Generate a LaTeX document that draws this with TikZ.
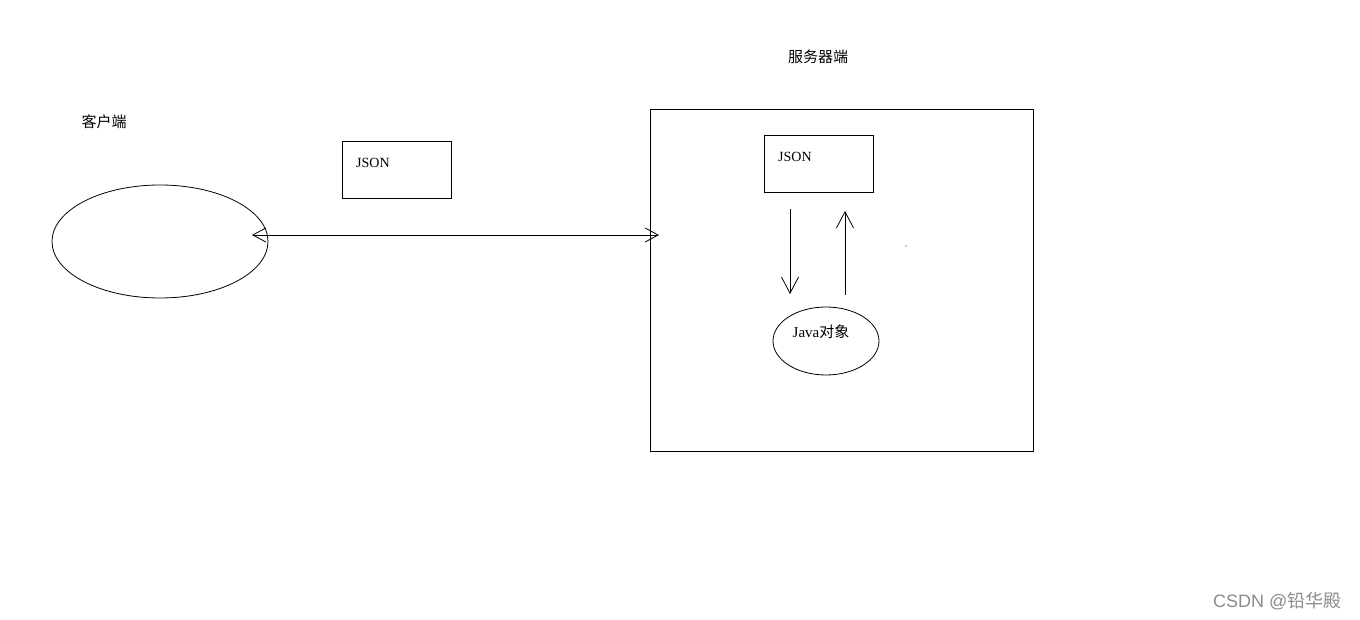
\documentclass[tikz,border=0pt]{standalone}
\usepackage{fontspec}
\setmainfont{Liberation Serif}
\newfontfamily\cjk{Noto Sans CJK SC}
\newfontfamily\wm{Liberation Sans}
\usetikzlibrary{shapes.geometric,arrows.meta}
\begin{document}
\begin{tikzpicture}[x=1pt,y=-1pt,
  box/.style={draw,line width=0.8pt,inner sep=0pt},
  oval/.style={draw,ellipse,line width=0.8pt,inner sep=0pt},
  lbl/.style={font=\cjk\fontsize{15}{17}\selectfont,inner sep=0pt},
  jtxt/.style={font=\fontsize{14}{16}\selectfont,inner sep=0pt},
  conn/.style={line width=0.8pt,{Straight Barb[length=13pt,width=14pt]}-{Straight Barb[length=13pt,width=14pt]}},
  one/.style={line width=0.8pt,-{Straight Barb[length=16pt,width=17pt]}}]
\useasboundingbox[fill=white] (0,0) rectangle (1360,620);
% client
\node[lbl] (clientlbl) at (104,122) {客户端};
\node[oval,minimum width=216pt,minimum height=113pt] (client) at (160,241.5) {};
\node[box,minimum width=109pt,minimum height=57pt] (json1) at (396.5,169.5) {};
\node[jtxt,anchor=west] (json1t) at (356,163) {JSON};
% server
\node[lbl] (serverlbl) at (818,57) {服务器端};
\node[box,minimum width=383pt,minimum height=342pt] (server) at (841.5,280) {};
\node[box,minimum width=109pt,minimum height=57pt] (json2) at (818.5,163.5) {};
\node[jtxt,anchor=west] (json2t) at (778,157) {JSON};
\node[oval,minimum width=106pt,minimum height=68pt] (obj) at (826,341) {};
\node[font=\fontsize{15}{17}\selectfont,inner sep=0pt] (objt) at (821,332) {Java{\cjk 对象}};
% connectors
\coordinate (a1) at (252,235);
\coordinate (a2) at (659,235);
\draw[conn] (a1) -- (a2);
\coordinate (d1) at (790,209);
\coordinate (d2) at (790,294);
\draw[one] (d1) -- (d2);
\coordinate (u1) at (845,295);
\coordinate (u2) at (845,211);
\draw[one] (u1) -- (u2);
\fill (906,246) circle (0.6pt);
% watermark
\node[font=\wm\fontsize{18}{20}\selectfont,text=black!45,inner sep=0pt] (wmk) at (1213,601) [anchor=west] {CSDN @{\cjk 铅华殿}};
\end{tikzpicture}
\end{document}
